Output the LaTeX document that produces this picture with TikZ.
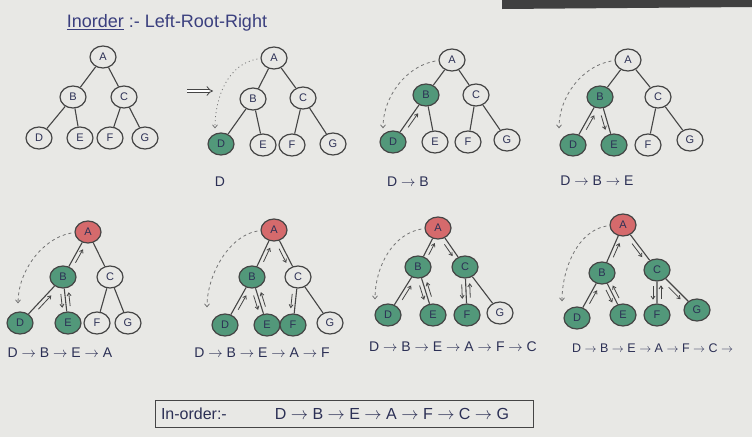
\documentclass[tikz,border=0pt]{standalone}
\usepackage{fontspec}
\setmainfont{Liberation Sans}
\usetikzlibrary{shapes.geometric,arrows.meta,calc}
\definecolor{paper}{HTML}{E8E8E5}
\definecolor{ink}{HTML}{2C3055}
\definecolor{titleink}{HTML}{3A3F7E}
\definecolor{pen}{HTML}{454545}
\definecolor{vgreen}{HTML}{52987A}
\definecolor{vred}{HTML}{D56A6C}
\newcommand\tedges[1]{\draw[tedge] (#1A)--(#1B) (#1A)--(#1C) (#1B)--(#1D) (#1B)--(#1E) (#1C)--(#1F) (#1C)--(#1G);}
\newcommand\tarr[2]{\draw[trav] ($(#1)!0.36!(#2)!4pt!-90:(#2)$) -- ($(#1)!0.66!(#2)!4pt!-90:(#2)$);}
\newcommand\tjump[4]{\draw[#1] ($(#2A.west)+(-3,1)$) .. controls ($(#2A.west)+(-32,6)$) and ($(#2D.north)+(#3,#4-32)$) .. ($(#2D.north)+(#3,#4)$);}
\begin{document}
\begin{tikzpicture}[x=1pt,y=-1pt,
 tn/.style={ellipse, draw=pen, line width=1.2pt, minimum width=26pt, minimum height=22pt, inner sep=0pt, text=ink, font=\fontsize{11}{11}\selectfont},
 vis/.style={tn, fill=vgreen},
 cur/.style={tn, fill=vred},
 tedge/.style={draw=pen, line width=1.1pt},
 trav/.style={draw=pen, line width=0.8pt, -{Straight Barb[length=3pt,width=4pt]}},
 jump/.style={draw=pen!75, line width=0.8pt, dash pattern=on 3pt off 3pt, -{Straight Barb[length=3pt,width=5pt]}},
 dotjump/.style={jump, dash pattern=on 1pt off 3pt},
 lbl/.style={text=ink, font=\fontsize{14}{14}\selectfont, inner sep=1pt}]
\useasboundingbox (0,0) rectangle (752,437);
\clip (0,0) rectangle (752,437);
\fill[paper] (0,0) rectangle (752,437);
\fill[black!75] (502,0) -- (752,0) -- (752,7) -- (502,9) -- cycle;

% title
\node[text=titleink, font=\fontsize{18}{18}\selectfont] (title) at (167,23) {\underline{Inorder} :- Left-Root-Right};

% tree 1
\node[tn] (t1A) at (103,57) {A};
\node[tn] (t1B) at (73,97) {B};
\node[tn] (t1C) at (124,97) {C};
\node[tn] (t1D) at (39,138) {D};
\node[tn] (t1E) at (80,138) {E};
\node[tn] (t1F) at (110,138) {F};
\node[tn] (t1G) at (145,138) {G};
\tedges{t1}

% implies arrow
\coordinate (imp1) at (187,91);
\coordinate (imp2) at (213,91);
\draw[pen, line width=0.8pt, double distance=2.5pt, -{Implies}] (imp1) -- (imp2);

% tree 2
\node[tn] (t2A) at (274,58) {A};
\node[tn] (t2B) at (253,99) {B};
\node[tn] (t2C) at (303,98) {C};
\node[vis] (t2D) at (221,144) {D};
\node[tn] (t2E) at (263,145) {E};
\node[tn] (t2F) at (292,145) {F};
\node[tn] (t2G) at (333,144) {G};
\tedges{t2}
\tjump{dotjump}{t2}{-6}{-4}
\node[lbl] (l2) at (220,182) {D};

% tree 3
\node[tn] (t3A) at (452,60) {A};
\node[vis] (t3B) at (426,95) {B};
\node[tn] (t3C) at (476,95) {C};
\node[vis] (t3D) at (393,142) {D};
\node[tn] (t3E) at (435,142) {E};
\node[tn] (t3F) at (468,142) {F};
\node[tn] (t3G) at (507,140) {G};
\tedges{t3}
\tjump{jump}{t3}{-10}{-2}
\tarr{t3D}{t3B}
\node[lbl] (l3) at (408,182) {D $\rightarrow$ B};

% tree 4
\node[tn] (t4A) at (628,60) {A};
\node[vis] (t4B) at (600,97) {B};
\node[tn] (t4C) at (658,97) {C};
\node[vis] (t4D) at (573,145) {D};
\node[vis] (t4E) at (614,145) {E};
\node[tn] (t4F) at (648,145) {F};
\node[tn] (t4G) at (690,140) {G};
\tedges{t4}
\tjump{jump}{t4}{-14}{-5}
\tarr{t4D}{t4B}
\tarr{t4B}{t4E}
\node[lbl] (l4) at (597,181) {D $\rightarrow$ B $\rightarrow$ E};

% tree 5
\node[cur] (t5A) at (88,232) {A};
\node[vis] (t5B) at (63,277) {B};
\node[tn] (t5C) at (110,277) {C};
\node[vis] (t5D) at (20,323) {D};
\node[vis] (t5E) at (68,323) {E};
\node[tn] (t5F) at (97,323) {F};
\node[tn] (t5G) at (128,323) {G};
\tedges{t5}
\tjump{jump}{t5}{-2}{-8}
\tarr{t5D}{t5B}
\tarr{t5B}{t5E}
\tarr{t5E}{t5B}
\tarr{t5B}{t5A}
\node[lbl] (l5) at (60,353) {D $\rightarrow$ B $\rightarrow$ E $\rightarrow$ A};

% tree 6
\node[cur] (t6A) at (274,230) {A};
\node[vis] (t6B) at (252,277) {B};
\node[tn] (t6C) at (298,277) {C};
\node[vis] (t6D) at (225,325) {D};
\node[vis] (t6E) at (267,325) {E};
\node[vis] (t6F) at (293,325) {F};
\node[tn] (t6G) at (330,323) {G};
\tedges{t6}
\tjump{jump}{t6}{-18}{-6}
\tarr{t6D}{t6B}
\tarr{t6B}{t6E}
\tarr{t6E}{t6B}
\tarr{t6B}{t6A}
\tarr{t6A}{t6C}
\tarr{t6C}{t6F}
\node[lbl] (l6) at (262,353) {D $\rightarrow$ B $\rightarrow$ E $\rightarrow$ A $\rightarrow$ F};

% tree 7
\node[cur] (t7A) at (438,228) {A};
\node[vis] (t7B) at (418,267) {B};
\node[vis] (t7C) at (465,267) {C};
\node[vis] (t7D) at (388,315) {D};
\node[vis] (t7E) at (433,315) {E};
\node[vis] (t7F) at (467,315) {F};
\node[tn] (t7G) at (500,313) {G};
\tedges{t7}
\tjump{jump}{t7}{-13}{-4}
\tarr{t7D}{t7B}
\tarr{t7B}{t7E}
\tarr{t7E}{t7B}
\tarr{t7B}{t7A}
\tarr{t7A}{t7C}
\tarr{t7C}{t7F}
\tarr{t7F}{t7C}
\node[lbl] (l7) at (453,347) {D $\rightarrow$ B $\rightarrow$ E $\rightarrow$ A $\rightarrow$ F $\rightarrow$ C};

% tree 8
\node[cur] (t8A) at (623,225) {A};
\node[vis] (t8B) at (602,273) {B};
\node[vis] (t8C) at (657,270) {C};
\node[vis] (t8D) at (577,318) {D};
\node[vis] (t8E) at (623,315) {E};
\node[vis] (t8F) at (657,315) {F};
\node[vis] (t8G) at (697,310) {G};
\tedges{t8}
\tjump{jump}{t8}{-15}{-5}
\tarr{t8D}{t8B}
\tarr{t8B}{t8E}
\tarr{t8E}{t8B}
\tarr{t8B}{t8A}
\tarr{t8A}{t8C}
\tarr{t8C}{t8F}
\tarr{t8F}{t8C}
\tarr{t8C}{t8G}
\node[lbl, anchor=west, font=\fontsize{12.5}{12.5}\selectfont] (l8) at (571,348) {D $\rightarrow$ B $\rightarrow$ E $\rightarrow$ A $\rightarrow$ F $\rightarrow$ C $\rightarrow$};

% result box
\node[draw=pen, line width=1pt, minimum width=378pt, minimum height=27pt, inner xsep=0pt, text=ink, font=\fontsize{16}{16}\selectfont] (box) at (344,414) {\makebox[376pt][l]{\hspace{5pt}In-order:-\hspace{48pt}D $\rightarrow$ B $\rightarrow$ E $\rightarrow$ A $\rightarrow$ F $\rightarrow$ C $\rightarrow$ G}};
\end{tikzpicture}
\end{document}
